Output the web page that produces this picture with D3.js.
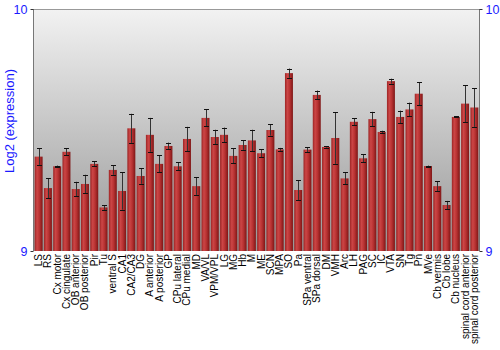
<!DOCTYPE html>
<html><head><meta charset="utf-8">
<script src="https://cdn.jsdelivr.net/npm/d3@7"></script>
<style>body{margin:0;background:#fff}svg{display:block}text{font-family:"Liberation Sans",Arial,sans-serif}</style>
</head><body><svg id="c" width="500" height="350"></svg>
<script>
const categories = ["LS","RS","Cx motor","Cx cingulate","OB anterior","OB posterior","Pir","Tu","ventral S","CA1","CA2/CA3","DG","A anterior","A posterior","GP","CPu lateral","CPu medial","MD","VA/VL","VPM/VPL","LG","MG","Hb","M","ME","SCN","MPA","SO","Pa","SPa ventral","SPa dorsal","DM","VMH","Arc","LH","PAG","SC","IC","VTA","SN","Tg","Pn","MVe","Cb vermis","Cb lobe","Cb nucleus","spinal cord anterior","spinal cord posterior"];
const values = [9.39,9.26,9.35,9.41,9.256,9.277,9.36,9.18,9.335,9.248,9.507,9.31,9.48,9.36,9.434,9.35,9.463,9.268,9.55,9.471,9.48,9.393,9.438,9.457,9.404,9.5,9.42,9.735,9.252,9.419,9.645,9.43,9.467,9.30,9.534,9.383,9.545,9.492,9.702,9.554,9.585,9.65,9.351,9.268,9.19,9.554,9.609,9.593];
const errors = [0.034,0.041,0.003,0.015,0.03,0.038,0.01,0.01,0.02,0.077,0.06,0.032,0.07,0.035,0.014,0.016,0.05,0.036,0.035,0.03,0.03,0.031,0.02,0.044,0.017,0.023,0.006,0.019,0.041,0.01,0.018,0.003,0.107,0.025,0.014,0.017,0.03,0.005,0.01,0.026,0.028,0.047,0.002,0.02,0.017,0.002,0.076,0.08];
const yTicks = [9,10];
const yLabel = "Log2 (expression)";

const L=34, R=479, T=9, B=251;
const svg=d3.select("#c");
const defs=svg.append("defs");
const bg=defs.append("linearGradient").attr("id","bg").attr("x1",0).attr("y1",0).attr("x2",0).attr("y2",1);
bg.append("stop").attr("offset","0%").attr("stop-color","#f2f2f2");
bg.append("stop").attr("offset","100%").attr("stop-color","#979797");
const bar=defs.append("linearGradient").attr("id","bar").attr("x1",0).attr("y1",0).attr("x2",1).attr("y2",0);
bar.append("stop").attr("offset","0%").attr("stop-color","#9c2424");
bar.append("stop").attr("offset","30%").attr("stop-color","#cc4646");
bar.append("stop").attr("offset","60%").attr("stop-color","#b83232");
bar.append("stop").attr("offset","100%").attr("stop-color","#7e1616");

const x=d3.scaleBand().domain(categories).range([L,R]).paddingInner(0.14).paddingOuter(0.07);
const y=d3.scaleLinear().domain([9,10]).range([B,T]);

svg.append("rect").attr("x",L).attr("y",T).attr("width",R-L).attr("height",B-T).attr("fill","url(#bg)");

svg.append("g").selectAll("rect").data(categories).join("rect")
 .attr("x",d=>x(d)).attr("width",x.bandwidth())
 .attr("y",(d,i)=>y(values[i])).attr("height",(d,i)=>B-y(values[i]))
 .attr("fill","url(#bar)");

const eb=svg.append("g").attr("stroke","#111").attr("stroke-width",1);
categories.forEach((c,i)=>{
  const cx=Math.round(x(c)+x.bandwidth()/2)+0.5;
  const y1=y(values[i]+errors[i]), y2=y(values[i]-errors[i]);
  eb.append("line").attr("x1",cx).attr("x2",cx).attr("y1",y1).attr("y2",y2).attr("stroke","#333");
  eb.append("line").attr("x1",cx-2.5).attr("x2",cx+2.5).attr("y1",Math.round(y1)+0.5).attr("y2",Math.round(y1)+0.5);
  eb.append("line").attr("x1",cx-2.5).attr("x2",cx+2.5).attr("y1",Math.round(y2)+0.5).attr("y2",Math.round(y2)+0.5);
});

// frame
svg.append("line").attr("x1",L-0.5).attr("x2",L-0.5).attr("y1",T).attr("y2",B).attr("stroke","#777");
svg.append("line").attr("x1",R+0.5).attr("x2",R+0.5).attr("y1",T).attr("y2",B).attr("stroke","#777");
svg.append("line").attr("x1",L).attr("x2",R).attr("y1",T+0.5).attr("y2",T+0.5).attr("stroke","#999");

const yl=d3.axisLeft(y).tickValues(yTicks).tickSize(3).tickFormat(d3.format("d"));
const ga=svg.append("g").attr("transform",`translate(${L-0.5},0)`).call(yl);
const yr=d3.axisRight(y).tickValues(yTicks).tickSize(3).tickFormat(d3.format("d"));
const gb=svg.append("g").attr("transform",`translate(${R+0.5},0)`).call(yr);
[ga,gb].forEach(g=>{
  g.select(".domain").remove();
  g.selectAll(".tick line").attr("stroke","#333");
  g.selectAll(".tick text").attr("fill","#1a1aff").style("font-size","12.5px").attr("font-family","Liberation Sans, Arial, sans-serif");
});

svg.append("text").attr("transform",`translate(14,121) rotate(-90)`).attr("text-anchor","middle")
 .attr("fill","#1a1aff").style("font-size","13px").text(yLabel);

svg.append("g").selectAll("text").data(categories).join("text")
 .attr("transform",d=>`translate(${x(d)+x.bandwidth()/2+3.5},${B+3}) rotate(-90)`)
 .attr("text-anchor","end").style("font-size","10px").attr("fill","#000").text(d=>d);
</script></body></html>
